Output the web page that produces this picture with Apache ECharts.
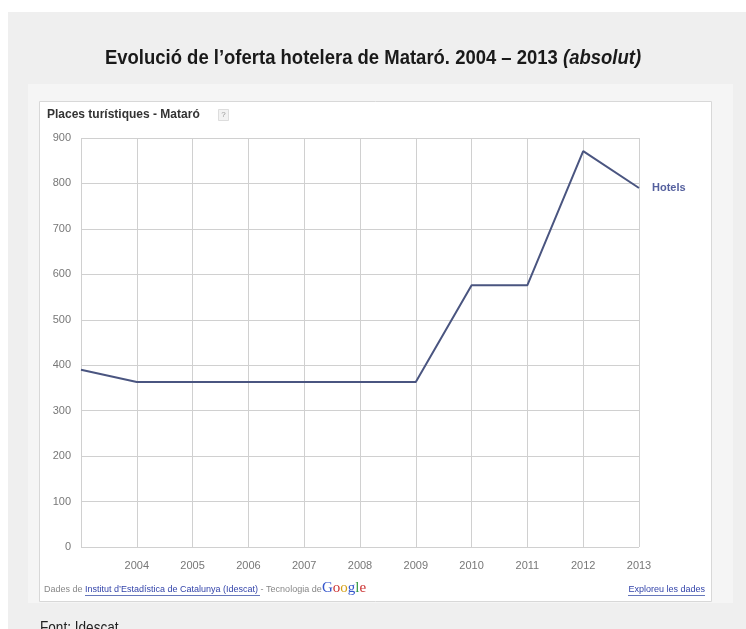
<!DOCTYPE html>
<html>
<head>
<meta charset="utf-8">
<script src="https://cdn.jsdelivr.net/npm/echarts@6/dist/echarts.min.js"></script>
<style>
html,body{margin:0;padding:0;background:#fff;}
#c{width:746px;height:629px;}
</style>
</head>
<body>
<div id="c"></div>
<script>
// Data
var years = [2003, 2004, 2005, 2006, 2007, 2008, 2009, 2010, 2011, 2012, 2013];
var hotels = [390, 363, 363, 363, 363, 363, 363, 576, 576, 871, 790];
var seriesName = 'Hotels';
var chartTitle = "Evolució de l\u2019oferta hotelera de Mataró. 2004 \u2013 2013 ";
var titleSuffix = '(absolut)';
var panelTitle = 'Places turístiques - Mataró';

var chart = echarts.init(document.getElementById('c'), null, {renderer: 'canvas'});
var lineData = years.map(function (y, i) { return [y, hotels[i]]; });
var sans = "Arial, 'Liberation Sans', sans-serif";
var serif = "'Liberation Serif', serif";

chart.setOption({
  backgroundColor: '#ffffff',
  animation: false,
  graphic: [
    {type: 'rect', z: -10, shape: {x: 8, y: 12, width: 738, height: 617}, style: {fill: '#efefef'}},
    {type: 'rect', z: -9, shape: {x: 28, y: 84, width: 705, height: 519}, style: {fill: '#f5f5f5'}},
    {type: 'rect', z: -8, shape: {x: 39.5, y: 101.5, width: 672, height: 500}, style: {fill: '#ffffff', stroke: '#d8d8d8', lineWidth: 1}},
    {type: 'text', z: 10, x: 373, y: 58, scaleX: 0.88, style: {
      text: '{a|' + chartTitle + '}{b|' + titleSuffix + '}',
      align: 'center', verticalAlign: 'middle',
      rich: {
        a: {fontFamily: sans, fontSize: 21, fill: '#1a1a1a', fontWeight: 'bold'},
        b: {fontFamily: sans, fontSize: 21, fill: '#1a1a1a', fontWeight: 'bold', fontStyle: 'italic'}
      }
    }},
    {type: 'text', z: 10, x: 47, y: 115, style: {
      text: panelTitle, fontFamily: sans, fontSize: 12, fontWeight: 'bold', fill: '#333', verticalAlign: 'middle'
    }},
    {type: 'rect', z: 10, shape: {x: 218.5, y: 109.5, width: 10, height: 11}, style: {fill: '#f2f2f2', stroke: '#dddddd'}},
    {type: 'text', z: 11, x: 223.5, y: 115, style: {text: '?', fontSize: 8, fill: '#999', align: 'center', verticalAlign: 'middle', fontFamily: sans}},
    {type: 'text', z: 10, x: 44, y: 590, style: {
      text: '{g|Dades de }{l|Institut d\u2019Estadística de Catalunya (Idescat)}{g| - Tecnologia de }',
      verticalAlign: 'middle',
      rich: {
        g: {fontSize: 9, fill: '#888', fontFamily: sans},
        l: {fontSize: 9, fill: '#3344aa', fontFamily: sans}
      }
    }},
    {type: 'line', z: 10, shape: {x1: 85, y1: 595.5, x2: 260, y2: 595.5}, style: {stroke: '#6677bb', lineWidth: 1}},
    {type: 'text', z: 10, x: 322, y: 588, style: {
      text: '{b1|G}{r|o}{y|o}{b2|g}{gr|l}{r2|e}',
      verticalAlign: 'middle',
      rich: {
        b1: {fontSize: 15, fill: '#3355cc', fontFamily: serif},
        r: {fontSize: 15, fill: '#cc3333', fontFamily: serif},
        y: {fontSize: 15, fill: '#d4a017', fontFamily: serif},
        b2: {fontSize: 15, fill: '#3355cc', fontFamily: serif},
        gr: {fontSize: 15, fill: '#339944', fontFamily: serif},
        r2: {fontSize: 15, fill: '#cc3333', fontFamily: serif}
      }
    }},
    {type: 'text', z: 10, x: 705, y: 590, style: {
      text: 'Exploreu les dades', align: 'right', verticalAlign: 'middle', fontSize: 9, fill: '#3344aa', fontFamily: sans
    }},
    {type: 'line', z: 10, shape: {x1: 628, y1: 595.5, x2: 705, y2: 595.5}, style: {stroke: '#6677bb', lineWidth: 1}},
    {type: 'text', z: 10, x: 40, y: 628, scaleX: 0.8, style: {
      text: 'Font: Idescat', fontFamily: sans, fontSize: 17, fill: '#222', verticalAlign: 'middle'
    }}
  ],
  grid: {left: 81, right: 107, top: 138, bottom: 82, containLabel: false},
  xAxis: {
    type: 'value', min: 2003, max: 2013, interval: 1,
    axisLine: {show: false}, axisTick: {show: false},
    axisLabel: {
      color: '#777', fontSize: 11, margin: 13, fontFamily: sans,
      formatter: function (v) { return v === 2003 ? '' : String(v); }
    },
    splitLine: {show: true, lineStyle: {color: '#d0d0d0', width: 1}}
  },
  yAxis: {
    type: 'value', min: 0, max: 900, interval: 100,
    axisLine: {show: false}, axisTick: {show: false},
    axisLabel: {color: '#777', fontSize: 11, margin: 10, fontFamily: sans},
    splitLine: {show: true, lineStyle: {color: '#d0d0d0', width: 1}}
  },
  series: [{
    name: seriesName, type: 'line', data: lineData, symbol: 'none',
    lineStyle: {color: '#4a5580', width: 2},
    endLabel: {show: true, formatter: seriesName, color: '#55609e', fontSize: 11, fontWeight: 'bold', distance: 13, fontFamily: sans}
  }]
});
</script>
</body>
</html>
